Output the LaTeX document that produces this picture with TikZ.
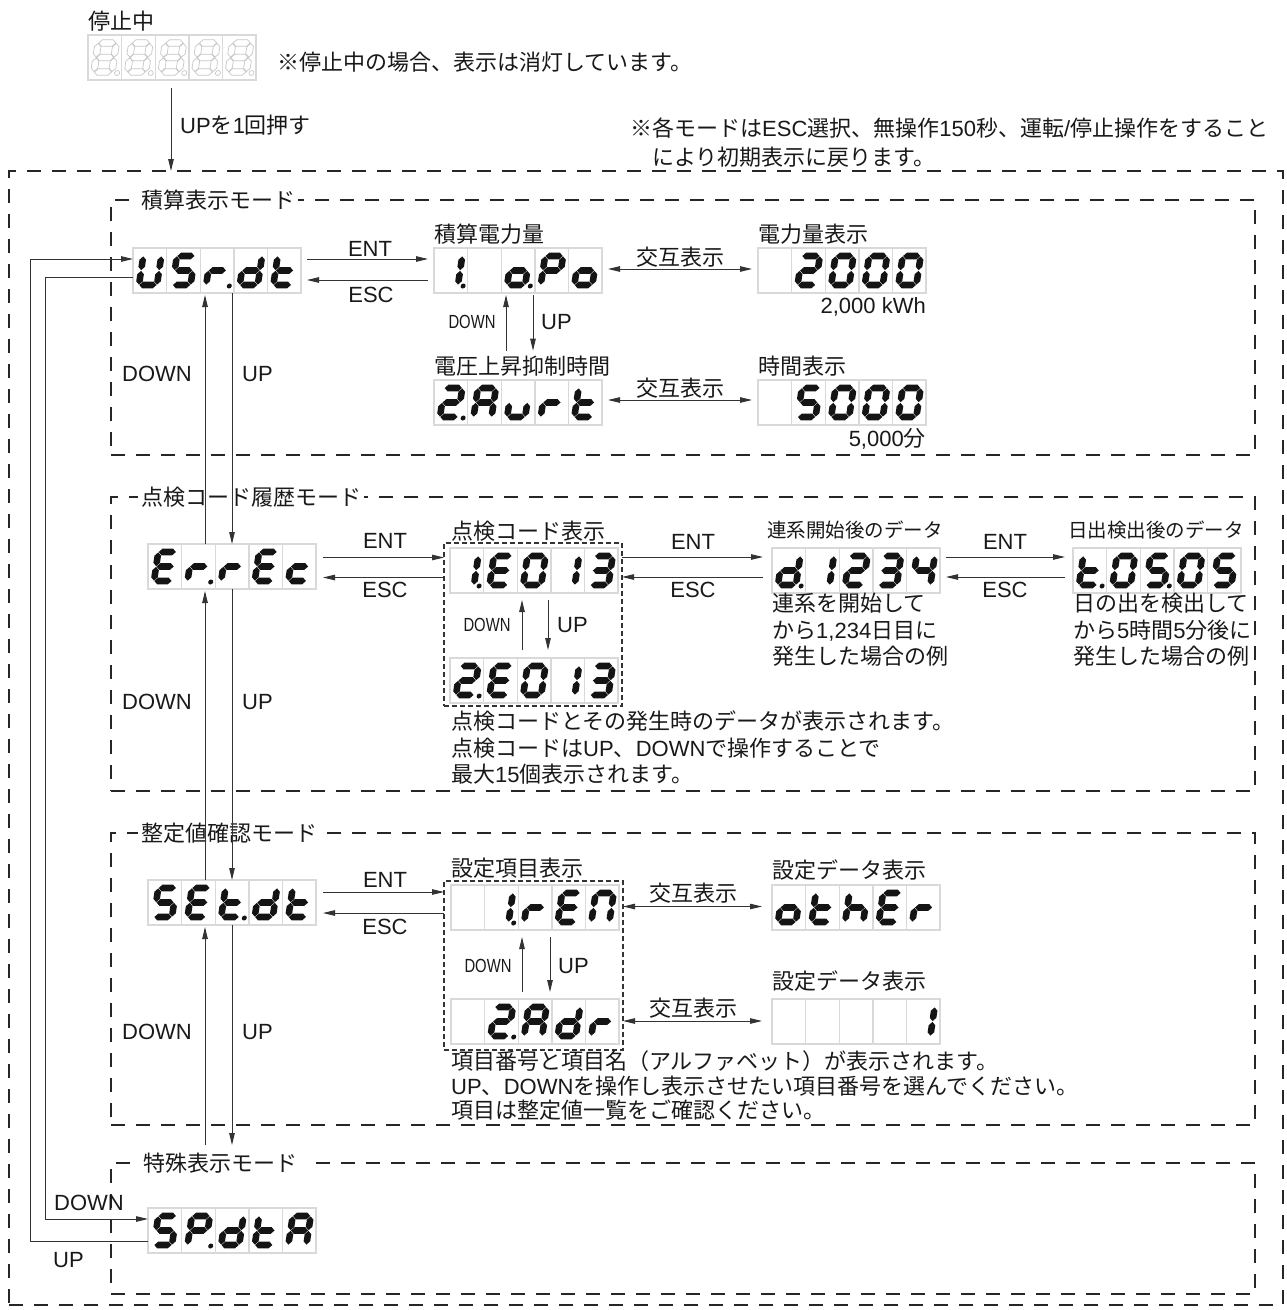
\documentclass[tikz,border=0pt]{standalone}
\usepackage{fontspec}
\setmainfont{Liberation Sans}
\newfontfamily\jpfont{Noto Sans CJK JP}
\newfontfamily\latfont{Liberation Sans}
\newfontfamily\narrowfont[FakeStretch=0.78]{Liberation Sans}
\usetikzlibrary{arrows.meta,calc}
% automatic switch between Latin and Japanese fonts
\XeTeXinterchartokenstate=1
\chardef\JPcls=7
\newcount\jpc
\def\setjp#1#2{\jpc=#1\relax\loop\XeTeXcharclass\jpc=\JPcls\relax\advance\jpc by 1\relax\ifnum\jpc<#2\relax\repeat}
\setjp{"3000}{"3100}
\setjp{"4E00}{"A000}
\setjp{"FF00}{"FFF0}
\XeTeXcharclass"203B=\JPcls
\XeTeXinterchartoks 0 \JPcls = {\jpfont}
\XeTeXinterchartoks 4095 \JPcls = {\jpfont}
\XeTeXinterchartoks \JPcls 0 = {\latfont}
\XeTeXinterchartoks \JPcls 4095 = {\latfont}
% seven segment glyphs
\def\hw{3.3}
\newcommand\hsegm[3]{\path[segstyle] (#1,#3) -- ({#1+\hw},{#3-\hw}) -- ({#2-\hw},{#3-\hw}) -- (#2,#3) -- ({#2-\hw},{#3+\hw}) -- ({#1+\hw},{#3+\hw}) -- cycle;}
\newcommand\vsegm[3]{\path[segstyle] (#1,#2) -- ({#1+\hw},{#2+\hw}) -- ({#1+\hw},{#3-\hw}) -- (#1,#3) -- ({#1-\hw},{#3-\hw}) -- ({#1-\hw},{#2+\hw}) -- cycle;}
\newcommand\segA{\hsegm{11.9}{29.1}{8}}
\newcommand\segB{\vsegm{29.5}{8.4}{22.1}}
\newcommand\segC{\vsegm{29.5}{22.9}{36.6}}
\newcommand\segD{\hsegm{11.9}{29.1}{37}}
\newcommand\segE{\vsegm{11.5}{22.9}{36.6}}
\newcommand\segF{\vsegm{11.5}{8.4}{22.1}}
\newcommand\segG{\hsegm{11.9}{29.1}{22.5}}
\def\dgX{}
\def\dgAll{\segA\segB\segC\segD\segE\segF\segG}
\def\dgZero{\segA\segB\segC\segD\segE\segF}
\def\dgOne{\segB\segC}
\def\dgTwo{\segA\segB\segD\segE\segG}
\def\dgThree{\segA\segB\segC\segD\segG}
\def\dgFour{\segB\segC\segF\segG}
\def\dgFive{\segA\segC\segD\segF\segG}
\def\dgS{\segA\segC\segD\segF\segG}
\def\dgU{\segB\segC\segD\segE\segF}
\def\dgr{\segE\segG}
\def\dgd{\segB\segC\segD\segE\segG}
\def\dgt{\segD\segE\segF\segG}
\def\dgE{\segA\segD\segE\segF\segG}
\def\dgc{\segD\segE\segG}
\def\dgo{\segC\segD\segE\segG}
\def\dgP{\segA\segB\segE\segF\segG}
\def\dgA{\segA\segB\segC\segE\segF\segG}
\def\dgu{\segC\segD\segE}
\def\dgh{\segC\segE\segF\segG}
\def\dgN{\segA\segB\segC\segE\segF}
\newcommand\dcell[4]{%
  \draw[cellbox] ({#1},{#2}) rectangle ++(33.6,45);
  \begin{scope}[shift={({#1},{#2})}, xslant=0.15]
    #3
    \ifnum#4=1 \path[segstyle] (34.8,38) circle (2.5);\fi
  \end{scope}}
\newcommand\disp[4]{%
  \node[dispnode] (#1) at ({#2+84},{#3+22.5}) {};
  \foreach \gly/\pnt [count=\ci from 0] in {#4} {\dcell{#2+33.6*\ci}{#3}{\gly}{\pnt}}}
\tikzset{
  frame/.style={draw=black!85, line width=2.4pt, dash pattern=on 14pt off 11pt, inner sep=0pt, outer sep=0pt, anchor=north west},
  modebox/.style={frame, minimum width=1144pt},
  smallbox/.style={draw=black!80, line width=1.1pt, dash pattern=on 5pt off 3pt, inner sep=0pt, outer sep=0pt, anchor=north west},
  arr/.style={draw=black!80, line width=0.9pt, -{Triangle[length=12pt,width=5.5pt]}},
  darr/.style={draw=black!80, line width=0.9pt, {Triangle[length=12pt,width=5.5pt]}-{Triangle[length=12pt,width=5.5pt]}},
  txt/.style={font=\fontsize{22pt}{26.5pt}\selectfont, inner sep=0pt, anchor=west, text=black!90, align=left},
  stxt/.style={txt, font=\fontsize{19.5pt}{24pt}\selectfont},
  ctxt/.style={txt, anchor=center},
  etxt/.style={txt, anchor=east},
  ntxt/.style={font=\narrowfont\fontsize{19pt}{22pt}\selectfont, inner sep=0pt, anchor=center, text=black!90},
  modelbl/.style={txt, fill=white, inner xsep=3pt, inner ysep=2pt},
  cellbox/.style={draw=black!15, line width=1.4pt},
  segstyle/.style={fill=black!92},
  dispnode/.style={minimum width=168pt, minimum height=45pt, inner sep=0pt, outer sep=0pt},
}
\begin{document}
\begin{tikzpicture}[x=1pt,y=-1pt]
\useasboundingbox (0,0) rectangle (1286,1310);
\fill[white] (0,0) rectangle (1286,1310);

% frames
\node[frame, minimum width=1274pt, minimum height=1134pt] (outer) at (9,171) {};
\node[modebox, minimum height=255pt] (m1) at (111,200) {};
\node[modebox, minimum height=294pt] (m2) at (111,497) {};
\node[modebox, minimum height=292pt] (m3) at (111,833) {};
\node[modebox, minimum height=131pt] (m4) at (111,1163) {};
\node[modelbl] (m1l) at (138,200) {積算表示モード};
\node[modelbl] (m2l) at (138,497) {点検コード履歴モード};
\node[modelbl] (m3l) at (138,833) {整定値確認モード};
\node[modelbl] (m4l) at (140,1163) {特殊表示モード\hspace{14pt}};
\node[smallbox, minimum width=178pt, minimum height=163pt] (ebox) at (444,543) {};
\node[smallbox, minimum width=179pt, minimum height=169pt] (rbox) at (444,881) {};

% displays
\begin{scope}[segstyle/.style={draw=black!22, line width=0.7pt, fill=none}]
\disp{stop}{88}{35}{\dgAll/1,\dgAll/1,\dgAll/1,\dgAll/1,\dgAll/1}
\end{scope}
\disp{usr}{133}{248}{\dgU/0,\dgS/0,\dgr/1,\dgd/0,\dgt/0}
\disp{opo}{434}{248}{\dgOne/1,\dgX/0,\dgo/1,\dgP/0,\dgo/0}
\disp{kwh}{758}{248}{\dgX/0,\dgTwo/0,\dgZero/0,\dgZero/0,\dgZero/0}
\disp{aurt}{434}{380}{\dgTwo/1,\dgA/0,\dgu/0,\dgr/0,\dgt/0}
\disp{tfive}{758}{380}{\dgX/0,\dgFive/0,\dgZero/0,\dgZero/0,\dgZero/0}
\disp{errec}{148}{544}{\dgE/0,\dgr/1,\dgr/0,\dgE/0,\dgc/0}
\disp{ea}{450}{548}{\dgOne/1,\dgE/0,\dgZero/0,\dgOne/0,\dgThree/0}
\disp{eb}{450}{658}{\dgTwo/1,\dgE/0,\dgZero/0,\dgOne/0,\dgThree/0}
\disp{dd}{772}{548}{\dgd/1,\dgOne/0,\dgTwo/0,\dgThree/0,\dgFour/0}
\disp{tt}{1073}{548}{\dgt/1,\dgZero/0,\dgFive/1,\dgZero/0,\dgFive/0}
\disp{setdt}{148}{880}{\dgS/0,\dgE/0,\dgt/1,\dgd/0,\dgt/0}
\disp{ren}{451}{885}{\dgX/0,\dgOne/1,\dgr/0,\dgE/0,\dgN/0}
\disp{oth}{772}{885}{\dgo/0,\dgt/0,\dgh/0,\dgE/0,\dgr/0}
\disp{adr}{451}{999}{\dgX/0,\dgTwo/1,\dgA/0,\dgd/0,\dgr/0}
\disp{one}{772}{999}{\dgX/0,\dgX/0,\dgX/0,\dgX/0,\dgOne/0}
\disp{spd}{148}{1208}{\dgS/0,\dgP/1,\dgd/0,\dgt/0,\dgA/0}

% top texts
\node[txt] (tstop) at (88,21) {停止中};
\node[txt] (tstopnote) at (277,62) {※停止中の場合、表示は消灯しています。};
\node[txt] (tup) at (180,125) {UPを1回押す};
\node[txt] (note1) at (630,128) {※各モードはESC選択、無操作150秒、運転/停止操作をすること};
\node[txt] (note2) at (652,157) {により初期表示に戻ります。};

% mode 1 texts
\node[ctxt] (ent1) at (370,249) {ENT};
\node[ctxt] (esc1) at (371,295) {ESC};
\node[txt] (lsek) at (434,234) {積算電力量};
\node[ntxt] (dn1) at (472,322) {DOWN};
\node[txt] (up1) at (541,322) {UP};
\node[txt] (laurt) at (434,366) {電圧上昇抑制時間};
\node[ctxt] (kg1) at (680,257) {交互表示};
\node[txt] (lkwh) at (758,234) {電力量表示};
\node[etxt] (vkwh) at (926,307) {2,000 kWh};
\node[ctxt] (kg2) at (680,388) {交互表示};
\node[txt] (ltime) at (758,366) {時間表示};
\node[etxt] (vtime) at (926,439) {5,000分};
\node[ctxt] (bdn1) at (157,374) {DOWN};
\node[txt] (bup1) at (242,374) {UP};

% mode 2 texts
\node[ctxt] (ent2) at (385,541) {ENT};
\node[ctxt] (esc2) at (385,590) {ESC};
\node[txt] (lcode) at (451,531) {点検コード表示};
\node[ctxt] (ent3) at (693,542) {ENT};
\node[ctxt] (esc3) at (693,590) {ESC};
\node[stxt] (lren) at (767,530) {連系開始後のデータ};
\node[ntxt] (dn2) at (487,625) {DOWN};
\node[txt] (up2) at (557,625) {UP};
\node[txt] (dren) at (772,630) {連系を開始して\\から1,234日目に\\発生した場合の例};
\node[stxt] (lhi) at (1068,530) {日出検出後のデータ};
\node[ctxt] (ent4) at (1005,542) {ENT};
\node[ctxt] (esc4) at (1005,590) {ESC};
\node[txt] (dhi) at (1073,630) {日の出を検出して\\から5時間5分後に\\発生した場合の例};
\node[txt] (dcode) at (451,748) {点検コードとその発生時のデータが表示されます。\\点検コードはUP、DOWNで操作することで\\最大15個表示されます。};
\node[ctxt] (bdn2) at (157,702) {DOWN};
\node[txt] (bup2) at (242,702) {UP};

% mode 3 texts
\node[ctxt] (ent5) at (385,880) {ENT};
\node[ctxt] (esc5) at (385,927) {ESC};
\node[txt] (litem) at (451,868) {設定項目表示};
\node[ctxt] (kg3) at (693,893) {交互表示};
\node[ctxt] (kg4) at (693,1008) {交互表示};
\node[txt] (lsd1) at (772,870) {設定データ表示};
\node[txt] (lsd2) at (772,981) {設定データ表示};
\node[ntxt] (dn3) at (488,966) {DOWN};
\node[txt] (up3) at (558,966) {UP};
\node[txt, font=\fontsize{22pt}{24.5pt}\selectfont] (ditem) at (451,1086) {項目番号と項目名（アルファベット）が表示されます。\\UP、DOWNを操作し表示させたい項目番号を選んでください。\\項目は整定値一覧をご確認ください。};
\node[ctxt] (bdn3) at (157,1032) {DOWN};
\node[txt] (bup3) at (242,1032) {UP};

% mode 4 texts
\node[ctxt] (m4dn) at (89,1203) {DOWN};
\node[txt] (m4up) at (53,1260) {UP};

% top arrow
\coordinate (s1) at ($(stop.south west)+(83,8)$);
\draw[arr] (s1) -- (s1 |- outer.north);

% loops to special mode
\draw[arr] ($(usr.west)+(0,6.5)$) -- ++(-88,0) |- ($(spd.west)+(0,-11.5)$);
\draw[arr] ($(spd.west)+(0,10.5)$) -- ++(-118,0) |- ($(usr.west)+(0,-11.5)$);

% vertical mode arrows
\coordinate (v1) at ($(usr.south west)+(72,2)$);
\coordinate (v2) at ($(usr.south west)+(99,0)$);
\draw[arr] (v1 |- errec.north) -- (v1);
\draw[arr] (v2) -- (v2 |- errec.north);
\coordinate (v3) at ($(errec.south west)+(57,2)$);
\coordinate (v4) at ($(errec.south west)+(84,0)$);
\draw[arr] (v3 |- setdt.north) -- (v3);
\draw[arr] (v4) -- (v4 |- setdt.north);
\coordinate (v5) at ($(setdt.south west)+(57,2)$);
\coordinate (v6) at ($(setdt.south west)+(84,0)$);
\coordinate (v7) at ($(m4.north west)+(0,-18)$);
\draw[arr] (v5 |- v7) -- (v5);
\draw[arr] (v6) -- (v6 |- v7);

% mode 1 arrows
\draw[arr] ($(usr.east)+(6,-11.5)$) -- ($(opo.west)+(-6,-11.5)$);
\draw[arr] ($(opo.west)+(-6,9.5)$) -- ($(usr.east)+(6,9.5)$);
\coordinate (i1) at ($(opo.south west)+(72,2)$);
\coordinate (i2) at ($(opo.south west)+(99,2)$);
\coordinate (i3) at ($(laurt.north)+(0,-5)$);
\draw[arr] (i1 |- i3) -- (i1);
\draw[arr] (i2) -- (i2 |- i3);
\draw[darr] ($(opo.east)+(6,-1.5)$) -- ($(kwh.west)+(-6,-1.5)$);
\draw[darr] ($(aurt.east)+(6,-2.5)$) -- ($(tfive.west)+(-6,-2.5)$);

% mode 2 arrows
\coordinate (e1) at ($(errec.east)+(7,-9)$);
\coordinate (e2) at ($(errec.east)+(7,11)$);
\draw[arr] (e1) -- (e1 -| ebox.west);
\draw[arr] (e2 -| ebox.west) -- (e2);
\coordinate (e3) at ($(dd.west)+(-9,-13.5)$);
\coordinate (e4) at ($(dd.west)+(-9,6.5)$);
\draw[arr] (e3 -| ebox.east) -- (e3);
\draw[arr] (e4) -- (e4 -| ebox.east);
\draw[arr] ($(dd.east)+(6,-13.5)$) -- ($(tt.west)+(-8,-13.5)$);
\draw[arr] ($(tt.west)+(-8,6.5)$) -- ($(dd.east)+(6,6.5)$);
\coordinate (j1) at ($(ea.south west)+(72,7)$);
\coordinate (j2) at ($(ea.south west)+(98,7)$);
\coordinate (j3) at ($(eb.north west)+(0,-8)$);
\draw[arr] (j1 |- j3) -- (j1);
\draw[arr] (j2) -- (j2 |- j3);

% mode 3 arrows
\coordinate (e5) at ($(setdt.east)+(7,-10.5)$);
\coordinate (e6) at ($(setdt.east)+(7,10.5)$);
\draw[arr] (e5) -- (e5 -| rbox.west);
\draw[arr] (e6 -| rbox.west) -- (e6);
\coordinate (e7) at ($(oth.west)+(-10,-1)$);
\coordinate (e8) at ($(one.west)+(-10,-0.5)$);
\draw[darr] (e7 -| rbox.east) -- (e7);
\draw[darr] (e8 -| rbox.east) -- (e8);
\coordinate (k1) at ($(ren.south west)+(71,7)$);
\coordinate (k2) at ($(ren.south west)+(99,7)$);
\coordinate (k3) at ($(adr.north west)+(0,-7)$);
\draw[arr] (k1 |- k3) -- (k1);
\draw[arr] (k2) -- (k2 |- k3);
\end{tikzpicture}
\end{document}
